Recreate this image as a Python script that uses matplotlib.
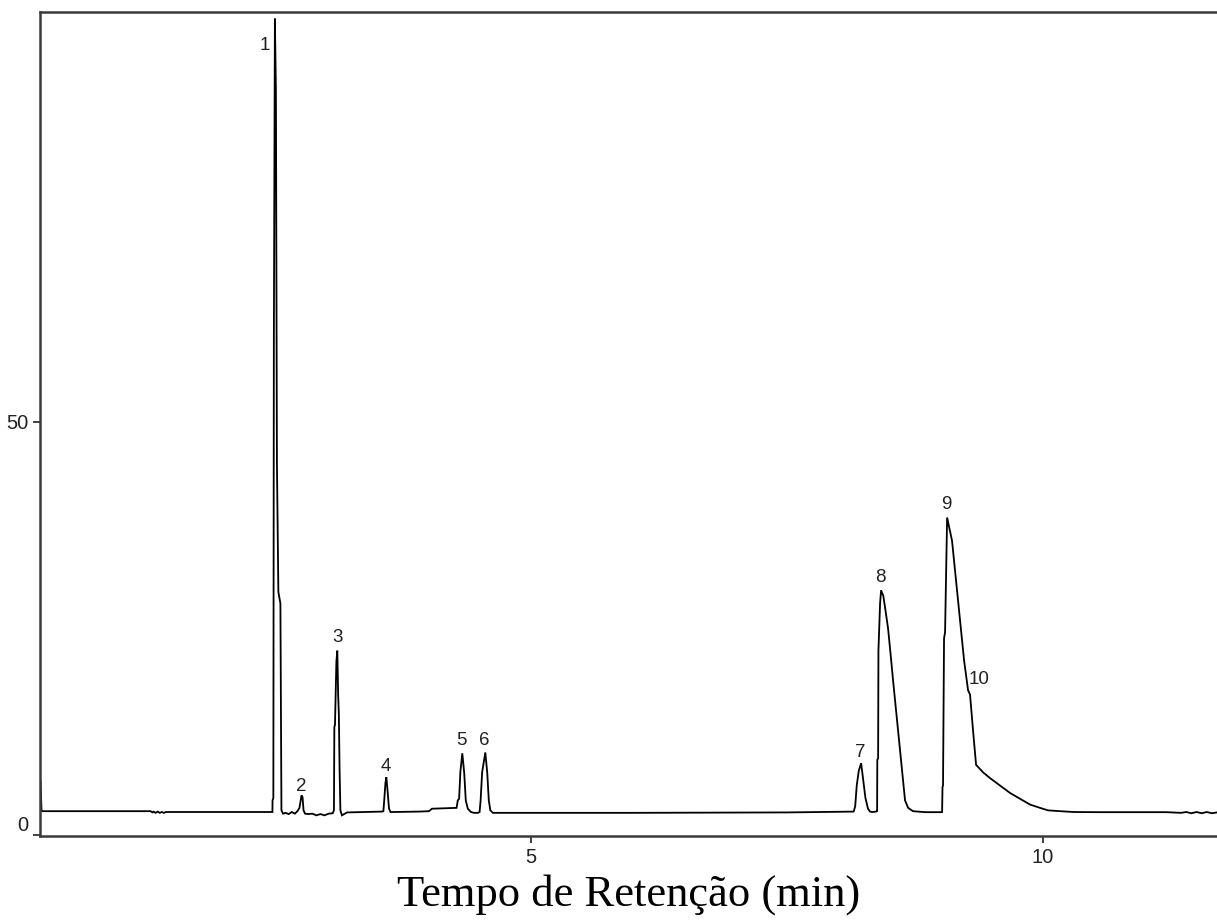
import numpy as np
import matplotlib
matplotlib.use("Agg")
import matplotlib.pyplot as plt

# chromatogram trace (min, signal)
retention_time = [
    0.205, 0.215, 0.225, 1.28, 1.30, 1.31, 1.33, 1.35, 1.37, 1.39, 1.41, 1.43, 1.45, 2.46,
    2.471, 2.472, 2.480, 2.485, 2.495, 2.505, 2.515, 2.529, 2.549, 2.552, 2.559, 2.575,
    2.60, 2.63, 2.66, 2.69,
    2.715, 2.735, 2.755, 2.765, 2.775, 2.79,
    2.82, 2.86, 2.90, 2.94, 2.98, 3.02, 3.06,
    3.072, 3.076, 3.082, 3.096, 3.105, 3.113, 3.12, 3.127, 3.135, 3.15, 3.2,
    3.35, 3.54,
    3.555, 3.565, 3.575, 3.584, 3.595, 3.61, 3.625, 3.65,
    3.90, 4.00, 4.03, 4.27,
    4.282, 4.295, 4.307, 4.326, 4.345, 4.36, 4.38, 4.41, 4.44, 4.48, 4.495,
    4.505, 4.52, 4.551, 4.57, 4.585, 4.60, 4.625, 4.70,
    6.0, 7.5, 8.15,
    8.165, 8.18, 8.20, 8.223, 8.245, 8.265, 8.29, 8.31, 8.33, 8.37,
    8.379, 8.381, 8.389, 8.392, 8.408, 8.418, 8.440, 8.457, 8.486, 8.506, 8.535, 8.574, 8.604,
    8.633, 8.652, 8.682, 8.73, 8.85, 9.0, 9.014,
    9.018, 9.023, 9.033, 9.043, 9.063, 9.111, 9.150, 9.189, 9.229, 9.268, 9.287, 9.316,
    9.346, 9.414, 9.482, 9.580, 9.678, 9.775, 9.873, 9.971, 10.049, 10.166, 10.30, 10.557,
    11.0, 11.2, 11.35, 11.40, 11.45, 11.5, 11.55, 11.6, 11.65, 11.70,
]
signal = [
    6.4, 3.0, 2.9, 2.9, 2.75, 2.85, 2.7, 2.85, 2.7, 2.8, 2.7, 2.8, 2.8, 2.8,
    2.8, 4.2, 4.5, 60, 98.7, 90, 45, 29.4, 28, 20, 3.0, 2.6,
    2.7, 2.55, 2.8, 2.6,
    2.9, 3.3, 4.8, 4.6, 3.0, 2.6,
    2.55, 2.6, 2.4, 2.55, 2.4, 2.6, 2.65,
    3.0, 13.1, 13.3, 21.0, 22.3, 17, 14.6, 8, 3.0, 2.4, 2.75,
    2.8, 2.85,
    2.9, 4.5, 6.3, 7.0, 5.5, 3.2, 2.8, 2.8,
    2.85, 2.9, 3.2, 3.3,
    4.2, 4.4, 7.6, 9.9, 7.5, 4.2, 3.2, 2.8, 2.7, 2.7, 2.8,
    4.2, 7.6, 10.0, 7.5, 4.2, 3.0, 2.7, 2.7,
    2.7, 2.75, 2.85,
    3.5, 6.0, 7.8, 8.7, 6.5, 4.5, 3.2, 2.85, 2.8, 2.85,
    2.9, 9.1, 9.3, 22.3, 28, 29.6, 28.9, 27.5, 25.0, 22.5, 18.7, 13.9, 10.3,
    6.6, 4.2, 3.3, 2.9, 2.78, 2.78, 2.8,
    5.8, 6.0, 23.8, 24.5, 38.4, 35.6, 30.8, 26.0, 21.1, 17.5, 17.0, 12.7,
    8.5, 7.6, 6.9, 6.0, 5.1, 4.4, 3.7, 3.3, 3.0, 2.9, 2.8, 2.78,
    2.78, 2.78, 2.7, 2.8, 2.65, 2.8, 2.65, 2.8, 2.65, 2.75,
]

# peak numbers and where they sit
peak_names = ["1", "2", "3", "4", "5", "6", "7", "8", "9", "10"]
peak_x = [2.40, 2.754, 3.105, 3.574, 4.316, 4.541, 8.213, 8.408, 9.053, 9.375]
peak_y = [95.4, 5.9, 23.9, 8.3, 11.5, 11.5, 10.0, 31.2, 40.0, 18.8]

xticks = [5, 10]
yticks = [0, 50]


def plot_chromatogram():
    fig = plt.figure(figsize=(12.17, 9.23), dpi=100)
    ax = fig.add_axes([40/1217, 1-836/923, 1-40/1217, (836-12)/923])

    ax.plot(retention_time, signal, color='black', lw=1.3, solid_joinstyle='miter')

    for name, x, y in zip(peak_names, peak_x, peak_y):
        ax.text(x, y, name, ha='center', va='center', fontsize=13.5,
                family='Liberation Sans', color='#222222')

    ax.set_xlim(0.2, 11.7)
    ax.set_ylim(-0.1, 99.5)
    ax.set_xticks(xticks)
    ax.set_yticks(yticks)
    ax.tick_params(direction='out', length=5, width=1.3, color='#333333',
                   labelsize=14.5, labelcolor='#222222')
    for lab in ax.get_xticklabels() + ax.get_yticklabels():
        lab.set_family('Liberation Sans')
    ax.get_yticklabels()[0].set_verticalalignment('bottom')

    ax.spines['right'].set_visible(False)
    for s in ['left', 'top', 'bottom']:
        ax.spines[s].set_linewidth(1.8)
        ax.spines[s].set_color('#3a3a3a')

    ax.set_xlabel('Tempo de Retenção (min)', family='Liberation Serif',
                  fontsize=32, labelpad=5)

    fig.savefig('out.png', dpi=100)


def main():
    plot_chromatogram()


if __name__ == "__main__":
    main()
